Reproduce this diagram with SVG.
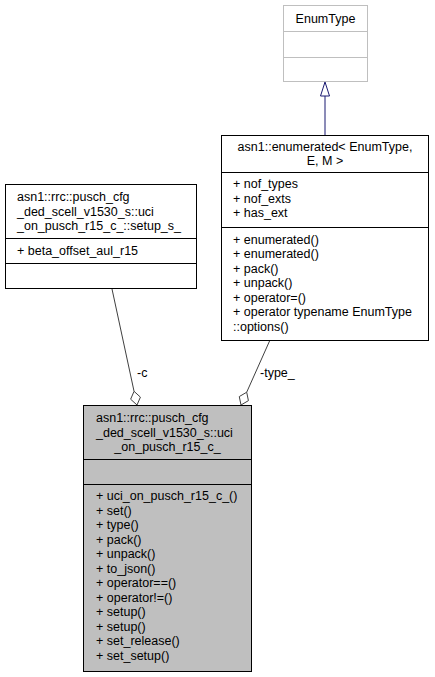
<svg xmlns="http://www.w3.org/2000/svg" width="435" height="677" viewBox="0 0 435 677">
<style>
text{font-family:"Liberation Sans",Arial,sans-serif;font-size:12.5px;fill:#000}
.c{text-anchor:middle}
.box{fill:#fff;stroke:#000;stroke-width:1}
.gbox{fill:#fff;stroke:#bfbfbf;stroke-width:1}
.main{fill:#bfbfbf;stroke:#000;stroke-width:1}
.ln{fill:none;stroke:#000;stroke-width:1}
.edge{fill:none;stroke:#404040;stroke-width:1}
.dia{fill:#fff;stroke:#404040;stroke-width:1}
.inh{fill:none;stroke:#191970;stroke-width:1}
.tri{fill:#fff;stroke:#191970;stroke-width:1}
</style>
<rect width="435" height="677" fill="#fff"/>
<g id="connectors">
<line class="inh" x1="325" y1="135" x2="325" y2="96"/>
<polygon class="tri" points="325,82 320.5,96 329.5,96"/>
<line class="edge" x1="112" y1="289" x2="134.06" y2="391.32"/>
<polygon class="dia" points="137,405 140.42,397.11 134.06,391.32 130.64,399.21"/>
<text x="137" y="377">-c</text>
<line class="edge" x1="270" y1="340" x2="246.7" y2="392.22"/>
<polygon class="dia" points="241,405 248.42,400.65 246.7,392.22 239.28,396.57"/>
<text x="260" y="377">-type_</text>
</g>
<g id="node_enumtype">
<rect class="gbox" x="283.5" y="5.5" width="84" height="76"/>
<line class="gbox" x1="283.5" y1="31.5" x2="367.5" y2="31.5"/>
<line class="gbox" x1="283.5" y1="57.5" x2="367.5" y2="57.5"/>
<text class="c" x="325.5" y="23">EnumType</text>
</g>
<g id="node_enumerated">
<rect class="box" x="221.5" y="135.5" width="207" height="205"/>
<line class="ln" x1="221.5" y1="172.5" x2="428.5" y2="172.5"/>
<line class="ln" x1="221.5" y1="227.5" x2="428.5" y2="227.5"/>
<text class="c" x="325" y="151">asn1::enumerated&lt; EnumType,</text>
<text class="c" x="325" y="165">E, M &gt;</text>
<text x="233" y="188">+ nof_types</text>
<text x="233" y="202.5">+ nof_exts</text>
<text x="233" y="217">+ has_ext</text>
<text x="233" y="243.5">+ enumerated()</text>
<text x="233" y="258">+ enumerated()</text>
<text x="233" y="272.5">+ pack()</text>
<text x="233" y="287">+ unpack()</text>
<text x="233" y="301.5">+ operator=()</text>
<text x="233" y="316">+ operator typename EnumType</text>
<text x="233" y="330.5">::options()</text>
</g>
<g id="node_setup">
<rect class="box" x="5.5" y="184.5" width="191" height="104"/>
<line class="ln" x1="5.5" y1="238.5" x2="196.5" y2="238.5"/>
<line class="ln" x1="5.5" y1="263.5" x2="196.5" y2="263.5"/>
<text x="17" y="201">asn1::rrc::pusch_cfg</text>
<text x="17" y="215.5">_ded_scell_v1530_s::uci</text>
<text x="17" y="230">_on_pusch_r15_c_::setup_s_</text>
<text x="17" y="255">+ beta_offset_aul_r15</text>
</g>
<g id="node_main">
<rect class="main" x="83.5" y="405.5" width="168" height="266"/>
<line class="ln" x1="83.5" y1="459.5" x2="251.5" y2="459.5"/>
<line class="ln" x1="83.5" y1="484.5" x2="251.5" y2="484.5"/>
<text x="96" y="422">asn1::rrc::pusch_cfg</text>
<text x="96" y="436.5">_ded_scell_v1530_s::uci</text>
<text class="c" x="167.5" y="451">_on_pusch_r15_c_</text>
<text x="96" y="500">+ uci_on_pusch_r15_c_()</text>
<text x="96" y="514.5">+ set()</text>
<text x="96" y="529">+ type()</text>
<text x="96" y="543.5">+ pack()</text>
<text x="96" y="558">+ unpack()</text>
<text x="96" y="572.5">+ to_json()</text>
<text x="96" y="587">+ operator==()</text>
<text x="96" y="601.5">+ operator!=()</text>
<text x="96" y="616">+ setup()</text>
<text x="96" y="630.5">+ setup()</text>
<text x="96" y="645">+ set_release()</text>
<text x="96" y="659.5">+ set_setup()</text>
</g>
</svg>
